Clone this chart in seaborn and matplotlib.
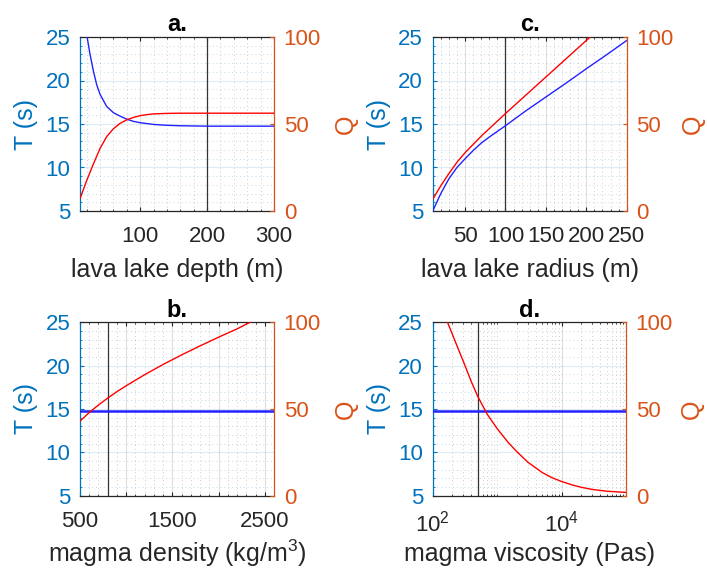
import matplotlib
matplotlib.use("Agg")
import matplotlib.pyplot as plt
import seaborn as sns
from matplotlib.ticker import FixedLocator, MultipleLocator, NullFormatter, FixedFormatter, LogFormatterSciNotation

sns.set_style("white")
plt.rcParams["font.family"] = ["Liberation Sans", "DejaVu Sans"]
plt.rcParams["mathtext.fontset"] = "custom"
plt.rcParams["mathtext.rm"] = "Liberation Sans"
plt.rcParams["mathtext.it"] = "Liberation Sans:italic"
plt.rcParams["mathtext.bf"] = "Liberation Sans:bold"

T_COLOR = "#0072BD"
Q_COLOR = "#D95319"
DARK = "#262626"

# (a) lava lake depth
depth_T_x = [20, 25, 30, 35, 40, 50, 60, 70, 80, 90, 100, 120, 140, 160, 200, 250, 300]
depth_T = [25.3, 23.0, 21.1, 19.5, 18.4, 17.0, 16.3, 15.9, 15.55, 15.3, 15.15, 14.95, 14.85, 14.8, 14.75, 14.75, 14.75]
depth_Q_x = [10, 20, 30, 40, 50, 60, 70, 80, 90, 100, 110, 120, 140, 160, 200, 250, 300]
depth_Q = [7.1, 17.5, 27.0, 36.0, 42.8, 47.3, 50.4, 52.4, 53.8, 54.8, 55.4, 55.8, 56.1, 56.2, 56.2, 56.2, 56.2]
depth_ref = 200

# (c) lava lake radius
radius_T_x = [10, 15, 20, 30, 40, 50, 60, 70, 80, 90, 100, 125, 150, 175, 200, 225, 250]
radius_T = [5.0, 6.0, 7.0, 8.7, 10.0, 11.0, 11.95, 12.8, 13.5, 14.15, 14.8, 16.5, 18.1, 19.7, 21.35, 22.95, 24.6]
radius_Q_x = [10, 20, 30, 40, 50, 70, 100, 150, 200, 205]
radius_Q = [6.7, 14.5, 21.5, 28.0, 33.5, 43.0, 56.0, 77.0, 98.0, 100.0]
radius_ref = 100

# (b) magma density
density_T_x = [500, 2600]
density_T = [14.75, 14.75]
density_Q_x = [500, 600, 700, 800, 900, 1000, 1200, 1400, 1600, 1800, 2000, 2200, 2340]
density_Q = [43.0, 48.0, 52.3, 56.3, 60.0, 63.4, 69.8, 75.7, 81.2, 86.4, 91.4, 96.2, 100.0]
density_ref = 800

# (d) magma viscosity
visc_T_x = [1e2, 1e5]
visc_T = [14.75, 14.75]
visc_Q_x = [170, 200, 250, 300, 400, 500, 700, 1000, 1500, 2000, 3000, 5000, 7000, 10000, 15000, 20000, 30000, 50000, 100000]
visc_Q = [100, 93.5, 84.5, 77.3, 65.5, 57.3, 47.0, 38.7, 30.5, 25.6, 19.3, 13.4, 10.5, 8.2, 6.1, 4.9, 3.6, 2.6, 1.9]
visc_ref = 500

T_lim = (5, 25)
T_ticks = [5, 10, 15, 20, 25]
Q_lim = (0, 100)
Q_ticks = [0, 50, 100]

W, H = 707, 571
fig = plt.figure(figsize=(W / 100, H / 100), dpi=100)

TICK_FS = 16
LABEL_FS = 18
TITLE_FS = 17


def rect(left, top, right, bottom):
    return [left / W, 1 - bottom / H, (right - left) / W, (bottom - top) / H]


def panel(r, title, xlabel, xT, T, xQ, Q, ref, xlim, xticks, xticklabels,
          minor, log=False, tw=1.0, qpad=9, xpad=8):
    ax = fig.add_axes(r)
    ax2 = ax.twinx()
    if log:
        ax.set_xscale("log")
    ax.set_xlim(*xlim)
    ax.set_ylim(*T_lim)
    ax2.set_ylim(*Q_lim)

    ax.set_axisbelow(True)
    ax.xaxis.set_major_locator(FixedLocator(xticks))
    ax.xaxis.set_minor_locator(FixedLocator(minor))
    ax.xaxis.set_minor_formatter(NullFormatter())
    if xticklabels is not None:
        ax.xaxis.set_major_formatter(FixedFormatter(xticklabels))
    elif log:
        ax.xaxis.set_major_formatter(LogFormatterSciNotation())
    ax.yaxis.set_major_locator(FixedLocator(T_ticks))
    ax.yaxis.set_minor_locator(MultipleLocator(1))
    ax2.yaxis.set_major_locator(FixedLocator(Q_ticks))

    ax.grid(True, which="major", axis="x", color=DARK, alpha=0.15, lw=0.8, ls="-")
    ax.grid(True, which="minor", axis="x", color=DARK, alpha=0.22, lw=0.7, ls=(0, (1, 3)))
    ax.grid(True, which="major", axis="y", color=T_COLOR, alpha=0.13, lw=0.8, ls="-")
    ax.grid(True, which="minor", axis="y", color=T_COLOR, alpha=0.25, lw=0.7, ls=(0, (1, 3)))

    ax.axvline(ref, color="#333333", lw=0.9, zorder=2)
    sns.lineplot(x=xT, y=T, ax=ax, color="#2222ff", lw=tw, zorder=3)
    sns.lineplot(x=xQ, y=Q, ax=ax2, color="#ff0000", lw=1.0, zorder=3)

    ax.tick_params(axis="x", which="both", direction="in", colors=DARK,
                   labelsize=TICK_FS, pad=11, top=True, bottom=True)
    ax.tick_params(axis="x", which="major", length=3, width=0.8)
    ax.tick_params(axis="x", which="minor", length=1.5, width=0.6)
    ax.tick_params(axis="y", which="both", direction="in", colors=T_COLOR,
                   labelsize=TICK_FS, pad=7, left=True, right=False)
    ax.tick_params(axis="y", which="major", length=3, width=0.8)
    ax.tick_params(axis="y", which="minor", length=1.5, width=0.6)
    ax2.tick_params(axis="y", which="major", direction="in", colors=Q_COLOR,
                    labelsize=TICK_FS, pad=7, length=3, width=0.8)

    for s in ("top", "bottom"):
        ax.spines[s].set_color(DARK)
        ax.spines[s].set_linewidth(0.9)
    ax.spines["left"].set_color(T_COLOR)
    ax.spines["left"].set_linewidth(0.9)
    ax.spines["right"].set_visible(False)
    for s in ("top", "bottom", "left"):
        ax2.spines[s].set_visible(False)
    ax2.spines["right"].set_color(Q_COLOR)
    ax2.spines["right"].set_linewidth(0.9)

    ax.set_xlabel(xlabel, color=DARK, fontsize=LABEL_FS, labelpad=xpad)
    ax.set_ylabel("T (s)", color=T_COLOR, fontsize=LABEL_FS, labelpad=5)
    ax2.set_ylabel("Q", color=Q_COLOR, fontsize=LABEL_FS, labelpad=qpad, rotation=90)
    ax.set_title(title, fontsize=TITLE_FS, fontweight="bold", color="black", pad=4)
    return ax, ax2


panel(rect(80, 37, 274, 211), "a.", "lava lake depth (m)",
      depth_T_x, depth_T, depth_Q_x, depth_Q, depth_ref,
      (10, 300), [100, 200, 300], None, list(range(20, 301, 20)))

panel(rect(432.7, 37, 626.7, 211), "c.", "lava lake radius (m)",
      radius_T_x, radius_T, radius_Q_x, radius_Q, radius_ref,
      (10, 250), [50, 100, 150, 200, 250], None, list(range(10, 251, 10)),
      qpad=5)

panel(rect(80, 322.3, 274, 495.7), "b.", "magma density (kg/m$^3$)",
      density_T_x, density_T, density_Q_x, density_Q, density_ref,
      (500, 2600), [500, 1000, 1500, 2000, 2500],
      ["500", "", "1500", "", "2500"], list(range(600, 2601, 100)), tw=1.8,
      xpad=4)

log_minor = [m * 10 ** e for e in (2, 3, 4) for m in range(2, 10)] + [1e3, 1e5]
panel(rect(432.7, 322.3, 626, 495.7), "d.", "magma viscosity (Pas)",
      visc_T_x, visc_T, visc_Q_x, visc_Q, visc_ref,
      (1e2, 1e5), [1e2, 1e4], None, sorted(log_minor), log=True, tw=1.8,
      qpad=5, xpad=4)

fig.savefig("out.png", dpi=100)
